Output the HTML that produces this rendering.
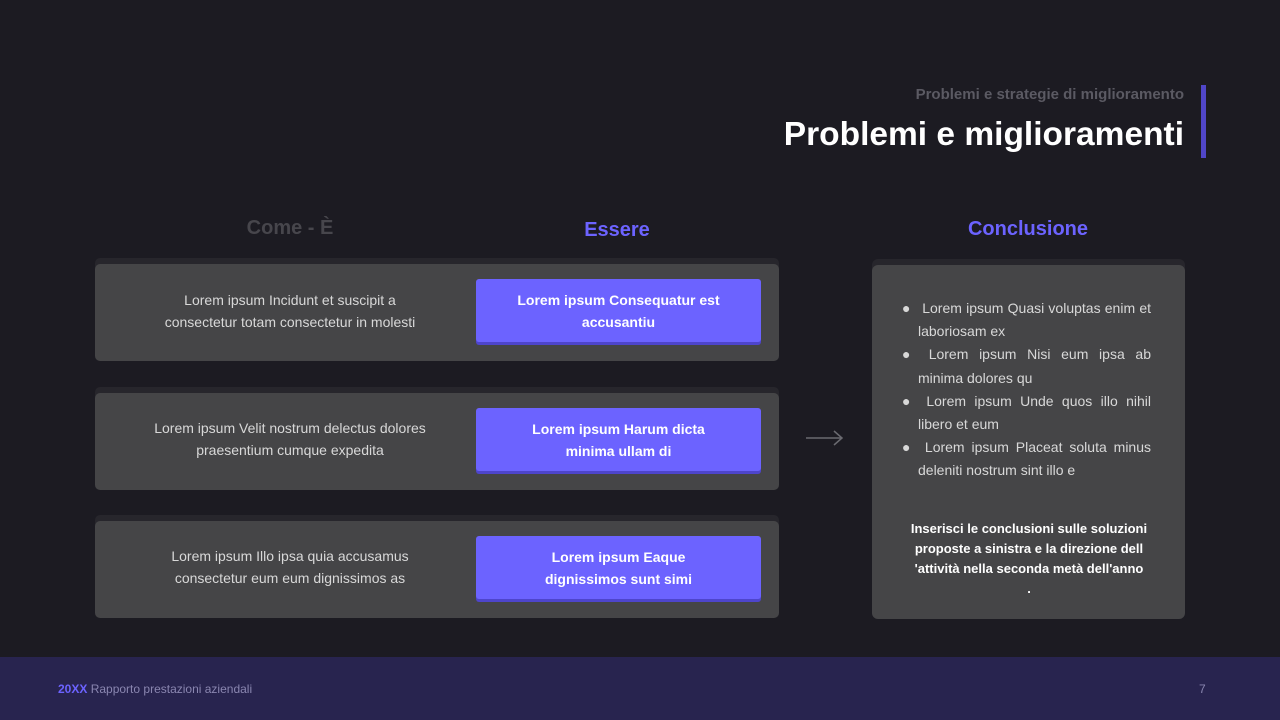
<!DOCTYPE html>
<html><head><meta charset="utf-8"><style>
*{margin:0;padding:0;box-sizing:border-box}
body{width:1280px;height:720px;background:#1c1b22;font-family:"Liberation Sans",sans-serif;position:relative;overflow:hidden}
.a{position:absolute}
.row{position:absolute;left:95px;width:684px;height:97px;background:#454547;border-radius:5px;box-shadow:0 -6px 0 #27262c}
.lt{position:absolute;left:0;width:390px;top:0;height:97px;display:flex;align-items:center;justify-content:center;text-align:center;color:#d8d8d8;font-size:14px;line-height:22px}
.bt{position:absolute;left:381px;top:15px;width:285px;height:63px;background:#6c63ff;border-radius:3px;box-shadow:0 3px 0 #4e45cc;display:flex;align-items:center;justify-content:center;text-align:center;color:#fff;font-size:14px;font-weight:bold;line-height:22px}
</style></head><body>
<div class="a" style="right:96px;top:86px;font-size:15px;font-weight:bold;color:#5b5a63">Problemi e strategie di miglioramento</div>
<div class="a" style="right:96px;top:116px;font-size:33.5px;font-weight:bold;color:#fff">Problemi e miglioramenti</div>
<div class="a" style="left:1201px;top:85px;width:5px;height:73px;background:#5046c8"></div>
<div class="a" style="left:190px;top:217px;width:200px;text-align:center;font-size:20px;font-weight:bold;color:#47464c">Come - È</div>
<div class="a" style="left:517px;top:219px;width:200px;text-align:center;font-size:20px;font-weight:bold;color:#6c63ff">Essere</div>
<div class="a" style="left:928px;top:218px;width:200px;text-align:center;font-size:20px;font-weight:bold;color:#6c63ff">Conclusione</div>
<div class="row" style="top:264px"><div class="lt" style="top:-2px">Lorem ipsum Incidunt et suscipit a<br>consectetur totam consectetur in molesti</div><div class="bt">Lorem ipsum Consequatur est<br>accusantiu</div></div>
<div class="row" style="top:393px"><div class="lt" style="top:-3px">Lorem ipsum Velit nostrum delectus dolores<br>praesentium cumque expedita</div><div class="bt">Lorem ipsum Harum dicta<br>minima ullam di</div></div>
<div class="row" style="top:521px"><div class="lt" style="top:-3px">Lorem ipsum Illo ipsa quia accusamus<br>consectetur eum eum dignissimos as</div><div class="bt">Lorem ipsum Eaque<br>dignissimos sunt simi</div></div>
<svg class="a" style="left:805px;top:428px" width="40" height="20"><path d="M1 10H37M29 3L37 10L29 17" stroke="#6a6a70" stroke-width="1.5" fill="none"/></svg>
<div class="a" style="left:872px;top:265px;width:313px;height:354px;background:#454547;border-radius:6px;box-shadow:0 -6px 0 #27262c"></div>
<div class="a" style="left:900px;top:297px;width:251px;color:#d8d8d8;font-size:14px;line-height:23.2px;text-align:justify">
<div style="padding-left:18px;position:relative"><span class="a" style="left:2px">●</span>&nbsp;Lorem ipsum Quasi voluptas enim et laboriosam ex</div>
<div style="padding-left:18px;position:relative"><span class="a" style="left:2px">●</span>&nbsp;Lorem ipsum Nisi eum ipsa ab minima dolores qu</div>
<div style="padding-left:18px;position:relative"><span class="a" style="left:2px">●</span>&nbsp;Lorem ipsum Unde quos illo nihil libero et eum</div>
<div style="padding-left:18px;position:relative"><span class="a" style="left:2px">●</span>&nbsp;Lorem ipsum Placeat soluta minus deleniti nostrum sint illo e</div>
</div>
<div class="a" style="left:903px;top:519px;width:252px;text-align:center;color:#fff;font-size:13px;font-weight:bold;line-height:20px">Inserisci le conclusioni sulle soluzioni proposte a sinistra e la direzione dell 'attività nella seconda metà dell'anno<br>.</div>
<div class="a" style="left:0;top:657px;width:1280px;height:63px;background:#28244f"></div>
<div class="a" style="left:58px;top:682px;font-size:12px;color:#8a86b0"><b style="color:#6c63ff">20XX</b> Rapporto prestazioni aziendali</div>
<div class="a" style="left:1199px;top:682px;font-size:12px;color:#8a86b0">7</div>
</body></html>
